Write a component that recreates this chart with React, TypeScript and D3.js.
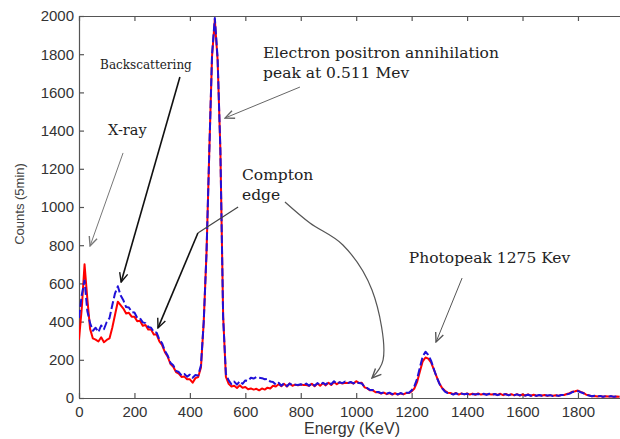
import { useEffect, useRef } from "react";
import * as d3 from "d3";

// channel grid, 10 keV bins
const STEP_KEV = 10;

// detector A (blue, dashed on top)
const countsBlue = [
  420, 540, 615, 455, 392, 352, 368, 345, 380, 360,
  398, 418, 486, 548, 585, 538, 512, 476, 474, 450,
  448, 420, 418, 396, 392, 372, 368, 346, 342, 306,
  286, 246, 222, 184, 172, 142, 136, 118, 126, 112,
  122, 106, 120, 118, 172, 400, 760, 1290, 1800, 1990,
  1780, 1300, 420, 125, 92, 72, 86, 70, 88, 74,
  92, 90, 106, 102, 110, 106, 104, 98, 100, 86,
  84, 70, 80, 64, 78, 62, 76, 66, 70, 68,
  72, 66, 76, 64, 78, 64, 78, 68, 80, 70,
  84, 72, 88, 74, 82, 78, 86, 78, 84, 76,
  86, 78, 76, 58, 52, 42, 42, 32, 32, 25,
  30, 22, 28, 20, 27, 19, 26, 20, 28, 28,
  40, 62, 102, 162, 218, 242, 226, 196, 152, 110,
  76, 50, 34, 26, 24, 18, 25, 17, 23, 20,
  22, 18, 20, 19, 21, 18, 22, 16, 22, 17,
  21, 15, 20, 19, 19, 14, 20, 15, 19, 14,
  18, 13, 17, 12, 17, 11, 16, 12, 14, 13,
  15, 10, 15, 11, 16, 15, 19, 23, 31, 33,
  36, 30, 25, 16, 13, 9, 12, 8, 11, 7,
  10, 7, 10, 6, 9, 6,
];

// detector B (red, solid)
const countsRed = [
  305, 470, 700, 520, 362, 312, 306, 296, 318, 292,
  304, 312, 368, 436, 504, 486, 468, 442, 446, 426,
  426, 402, 404, 378, 382, 358, 358, 332, 332, 296,
  276, 240, 216, 178, 164, 136, 128, 110, 112, 98,
  98, 80, 104, 110, 160, 400, 760, 1290, 1790, 1980,
  1770, 1300, 430, 110, 74, 60, 64, 52, 66, 54,
  58, 46, 50, 44, 48, 40, 50, 44, 54, 50,
  64, 60, 72, 62, 74, 60, 76, 64, 70, 66,
  70, 68, 68, 64, 74, 62, 76, 64, 78, 66,
  80, 68, 84, 72, 82, 76, 80, 78, 82, 76,
  88, 78, 80, 56, 50, 40, 40, 30, 30, 23,
  28, 20, 26, 18, 25, 18, 24, 19, 26, 26,
  35, 50, 85, 140, 192, 212, 206, 186, 150, 112,
  76, 52, 38, 28, 26, 20, 26, 18, 24, 19,
  24, 18, 23, 17, 24, 18, 21, 19, 20, 18,
  21, 16, 22, 15, 21, 15, 20, 14, 20, 13,
  18, 13, 19, 12, 17, 12, 15, 13, 16, 11,
  15, 12, 14, 12, 16, 16, 21, 25, 33, 35,
  39, 32, 27, 17, 14, 9, 11, 8, 10, 7,
  9, 8, 8, 7, 8, 6,
];

const xTicks = [0, 200, 400, 600, 800, 1000, 1200, 1400, 1600, 1800];
const yTicks = [0, 200, 400, 600, 800, 1000, 1200, 1400, 1600, 1800, 2000];

// annotation labels, anchored in data units [keV, counts]
const labels = [
  { text: "Backscattering", at: [76, 1723], size: 12 },
  { text: "X-ray", at: [105, 1377], size: 14.5 },
  { text: "Electron positron annihilation", at: [664, 1780], size: 15.5 },
  { text: "peak at 0.511 Mev", at: [664, 1676], size: 15.5 },
  { text: "Compton", at: [588, 1141], size: 15.5 },
  { text: "edge", at: [588, 1037], size: 15.5 },
  { text: "Photopeak 1275 Kev", at: [1190, 707], size: 15.5 },
];

// arrows: list of [keV, counts] points, last one is the tip
const arrows = [
  { pts: [[159, 1283], [40, 796]], color: "#777", width: 1, head: true, curved: false },
  { pts: [[364, 1681], [152, 607]], color: "#111", width: 1.6, head: true, curved: false },
  { pts: [[574, 1000], [429, 864]], color: "#444", width: 1.2, head: false, curved: false },
  { pts: [[429, 864], [285, 367]], color: "#111", width: 1.6, head: true, curved: false },
  {
    pts: [[743, 1026], [833, 916], [952, 801], [1057, 565], [1097, 199], [1057, 105]],
    color: "#555", width: 1.2, head: true, curved: true,
  },
  { pts: [[797, 1628], [527, 1466]], color: "#666", width: 1, head: true, curved: false },
  { pts: [[1382, 628], [1288, 293]], color: "#555", width: 1, head: true, curved: false },
];

const W = 620;
const H = 439;

const SpectrumChart = () => {
  const svgRef = useRef<SVGSVGElement>(null);

  useEffect(() => {
    document.body.style.margin = "0";
    const svg = d3.select(svgRef.current);
    svg.selectAll("*").remove();

    const x = d3.scaleLinear().domain([0, 2000]).range([79, 633.4]);
    const y = d3.scaleLinear().domain([0, 2000]).range([398, 16]);

    const defs = svg.append("defs");
    defs
      .append("clipPath")
      .attr("id", "plot-clip")
      .append("rect")
      .attr("x", 79)
      .attr("y", 14)
      .attr("width", 560)
      .attr("height", 386);

    // open chevron arrowheads
    const colors = Array.from(new Set(arrows.map((a) => a.color)));
    colors.forEach((c, i) => {
      defs
        .append("marker")
        .attr("id", `head-${i}`)
        .attr("viewBox", "0 0 12 12")
        .attr("refX", 11)
        .attr("refY", 6)
        .attr("markerWidth", 11)
        .attr("markerHeight", 11)
        .attr("markerUnits", "userSpaceOnUse")
        .attr("orient", "auto")
        .append("path")
        .attr("d", "M1,1.5 L11,6 L1,10.5")
        .attr("fill", "none")
        .attr("stroke", c)
        .attr("stroke-width", 1.5);
    });

    const font = "'Liberation Sans', Arial, sans-serif";
    const fmt = d3.format("d");

    // Axes (inward ticks, matlab box)
    const bottom = svg
      .append("g")
      .attr("transform", `translate(0,${y(0)})`)
      .call(
        d3
          .axisBottom(x)
          .tickValues(xTicks)
          .tickFormat(fmt)
          .tickSizeInner(-5)
          .tickSizeOuter(0)
          .tickPadding(8)
      );
    const left = svg
      .append("g")
      .attr("transform", `translate(${x(0)},0)`)
      .call(
        d3
          .axisLeft(y)
          .tickValues(yTicks)
          .tickFormat(fmt)
          .tickSizeInner(-5)
          .tickSizeOuter(0)
          .tickPadding(5)
      );
    const top = svg
      .append("g")
      .attr("transform", `translate(0,${y(2000)})`)
      .call(
        d3
          .axisTop(x)
          .tickValues(xTicks)
          .tickSizeInner(-5)
          .tickSizeOuter(0)
          .tickFormat(() => "")
      );
    const right = svg
      .append("g")
      .attr("transform", `translate(${x(2000)},0)`)
      .call(
        d3
          .axisRight(y)
          .tickValues(yTicks)
          .tickSizeInner(-5)
          .tickSizeOuter(0)
          .tickFormat(() => "")
      );

    [bottom, left, top, right].forEach((g) => {
      g.selectAll("path, line").attr("stroke", "#555").attr("stroke-width", 1.2);
      g.selectAll("text")
        .attr("fill", "#333")
        .style("font-family", font)
        .style("font-size", "15px");
    });

    // Spectra
    const line = d3
      .line<number>()
      .x((_d, i) => x(i * STEP_KEV))
      .y((d) => y(d));

    const plot = svg.append("g").attr("clip-path", "url(#plot-clip)");

    plot
      .append("path")
      .datum(countsRed)
      .attr("d", line)
      .attr("fill", "none")
      .attr("stroke", "#ff0000")
      .attr("stroke-width", 2)
      .attr("stroke-linejoin", "round");

    plot
      .append("path")
      .datum(countsBlue)
      .attr("d", line)
      .attr("fill", "none")
      .attr("stroke", "#2010d8")
      .attr("stroke-width", 2)
      .attr("stroke-dasharray", "8,3")
      .attr("stroke-linejoin", "round");

    // Axis titles
    svg
      .append("text")
      .attr("x", 352)
      .attr("y", 434)
      .attr("text-anchor", "middle")
      .attr("fill", "#333")
      .style("font-family", font)
      .style("font-size", "16px")
      .text("Energy (KeV)");

    svg
      .append("text")
      .attr("transform", "translate(24,204) rotate(-90)")
      .attr("text-anchor", "middle")
      .attr("fill", "#444")
      .style("font-family", font)
      .style("font-size", "13px")
      .text("Counts (5min)");

    // Annotation arrows
    const straight = d3
      .line<number[]>()
      .x((d) => x(d[0]))
      .y((d) => y(d[1]));
    const curved = d3
      .line<number[]>()
      .x((d) => x(d[0]))
      .y((d) => y(d[1]))
      .curve(d3.curveCatmullRom.alpha(0.5));

    arrows.forEach((a) => {
      const p = svg
        .append("path")
        .attr("d", (a.curved ? curved : straight)(a.pts))
        .attr("fill", "none")
        .attr("stroke", a.color)
        .attr("stroke-width", a.width);
      if (a.head) p.attr("marker-end", `url(#head-${colors.indexOf(a.color)})`);
    });

    // Annotation labels
    svg
      .selectAll(".note")
      .data(labels)
      .enter()
      .append("text")
      .attr("class", "note")
      .attr("x", (d) => x(d.at[0]))
      .attr("y", (d) => y(d.at[1]))
      .attr("fill", "#222")
      .style("font-family", "'DejaVu Serif', serif")
      .style("font-size", (d) => `${d.size}px`)
      .text((d) => d.text);
  }, []);

  return (
    <svg
      ref={svgRef}
      width={W}
      height={H}
      style={{ display: "block", background: "#fff" }}
    />
  );
};

export default function App() {
  return <SpectrumChart />;
}
